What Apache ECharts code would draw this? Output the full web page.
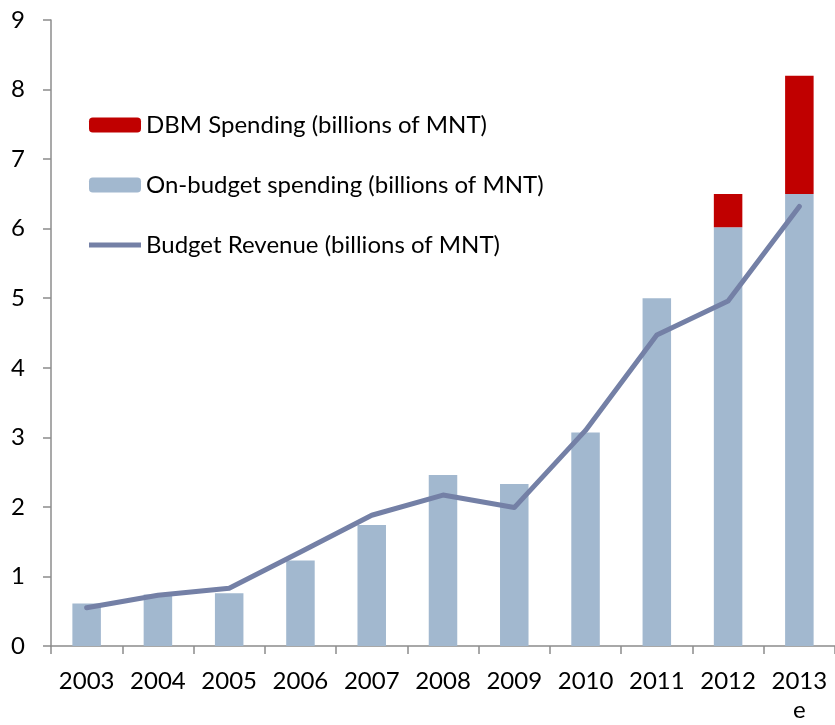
<!DOCTYPE html>
<html>
<head>
<meta charset="utf-8">
<script src="https://cdn.jsdelivr.net/npm/echarts@6/dist/echarts.min.js"></script>
<style>
  html, body { margin: 0; padding: 0; background: #fff; overflow: hidden; }
  #chart { width: 835px; height: 725px; }
</style>
</head>
<body>
<div id="chart"></div>
<script>
const years = ['2003', '2004', '2005', '2006', '2007', '2008', '2009', '2010', '2011', '2012', '2013\ne']
const onBudget = [0.61, 0.74, 0.76, 1.23, 1.74, 2.46, 2.33, 3.07, 5.0, 6.02, 6.5]
const dbm = [null, null, null, null, null, null, null, null, null, 0.48, 1.7]
const revenue = [0.55, 0.73, 0.83, 1.35, 1.88, 2.17, 1.99, 3.1, 4.47, 4.96, 6.32]

const font = 'Lato, "Open Sans", sans-serif'
const chart = echarts.init(document.getElementById('chart'))

chart.setOption({
  backgroundColor: '#fff',
  animation: false,
  textStyle: { fontFamily: font },
  legend: {
    orient: 'vertical',
    left: 84,
    top: 108,
    itemWidth: 52,
    itemHeight: 15,
    itemGap: 36,
    data: [
      { name: 'DBM Spending (billions of MNT)' },
      { name: 'On-budget spending (billions of MNT)' },
      { name: 'Budget Revenue (billions of MNT)', icon: 'path://M0,0 H100 V10 H0 Z' }
    ],
    textStyle: { color: '#000', fontSize: 24, fontFamily: font }
  },
  grid: {
    left: 51,
    top: 20,
    width: 789,
    height: 629
  },
  xAxis: {
    type: 'category',
    data: years,
    axisLine: { lineStyle: { color: '#8c8c8c', width: 1.5 } },
    axisTick: { show: true, length: 8, lineStyle: { color: '#8c8c8c', width: 1.5 } },
    axisLabel: { interval: 0, color: '#000', fontSize: 24, fontFamily: font, margin: 21, lineHeight: 29 }
  },
  yAxis: {
    type: 'value',
    min: 0,
    max: 9,
    interval: 1,
    axisLine: { show: true, lineStyle: { color: '#8c8c8c', width: 1.5 } },
    axisTick: { show: true, length: 8, lineStyle: { color: '#8c8c8c', width: 1.5 } },
    splitLine: { show: false },
    axisLabel: { color: '#000', fontSize: 24, fontFamily: font, margin: 26 }
  },
  series: [
    {
      name: 'On-budget spending (billions of MNT)',
      type: 'bar',
      stack: 'spend',
      data: onBudget,
      barWidth: '40%',
      itemStyle: { color: '#a2b8cf' }
    },
    {
      name: 'DBM Spending (billions of MNT)',
      type: 'bar',
      stack: 'spend',
      data: dbm,
      barWidth: '40%',
      itemStyle: { color: '#c00000' }
    },
    {
      name: 'Budget Revenue (billions of MNT)',
      type: 'line',
      data: revenue,
      symbol: 'none',
      z: 5,
      lineStyle: { color: '#7480a6', width: 5, cap: 'round', join: 'round' },
      itemStyle: { color: '#7480a6' }
    }
  ]
})
</script>
</body>
</html>
